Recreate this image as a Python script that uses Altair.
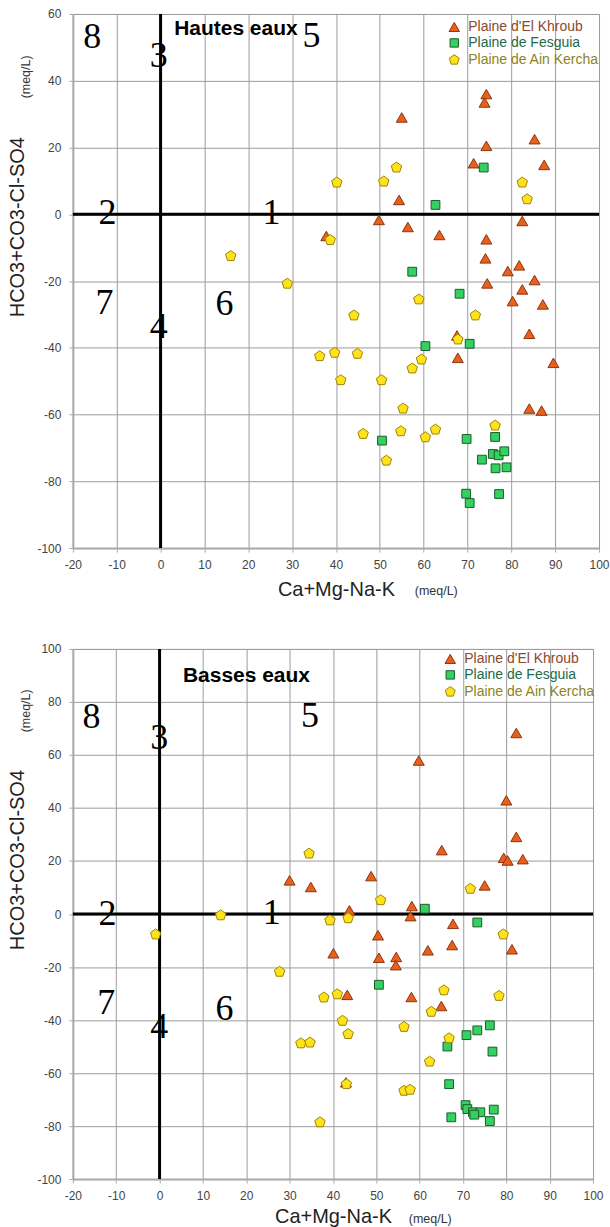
import altair as alt
import pandas as pd

# Series names, styles
SERIES = ["Plaine d'El Khroub", "Plaine de Fesguia", "Plaine de Ain Kercha"]
FILLS = ["#e8601c", "#35d160", "#ffe21c"]
STROKES = ["#8a3510", "#1b5a2c", "#9c8500"]
PENTAGON = "M0,-1L0.951,-0.309L0.588,0.809L-0.588,0.809L-0.951,-0.309Z"
SQUARE = "M-0.8,-0.8L0.8,-0.8L0.8,0.8L-0.8,0.8Z"
SHAPES = ["triangle-up", SQUARE, PENTAGON]

X_TICKS = list(range(-20, 101, 10))

# ---- Hautes eaux: (Ca+Mg-Na-K, HCO3+CO3-Cl-SO4) in meq/L ----
hautes_khroub = [
    (74.3, 36.0), (73.9, 33.5), (55.0, 29.0), (74.3, 20.5), (85.3, 22.5),
    (71.4, 15.3), (87.5, 14.8), (54.4, 4.3), (49.8, -1.7), (82.5, -2.0),
    (56.4, -3.8), (63.6, -6.2), (37.8, -6.5), (74.3, -7.5), (74.1, -13.2),
    (79.2, -17.0), (81.8, -15.3), (85.3, -19.7), (74.5, -20.7), (82.5, -22.5),
    (80.3, -26.0), (87.2, -27.0), (84.1, -35.8), (67.6, -36.3), (67.8, -43.0),
    (89.6, -44.5), (84.1, -58.2), (86.9, -58.8),
]
hautes_fesguia = [
    (73.7, 14.0), (62.7, 2.8), (57.4, -17.2), (68.2, -23.8), (60.4, -39.5),
    (70.5, -38.8), (50.5, -67.8), (69.8, -67.3), (76.3, -66.7), (75.8, -71.8),
    (77.1, -72.2), (78.4, -71.0), (73.3, -73.5), (76.4, -76.1), (78.9, -75.8),
    (69.7, -83.7), (70.5, -86.5), (77.2, -83.8),
]
hautes_kercha = [
    (16.0, -12.5), (28.9, -20.8), (53.8, 14.0), (40.2, 9.5), (50.9, 9.8),
    (82.5, 9.5), (83.6, 4.5), (38.7, -7.7), (58.9, -25.5), (44.1, -30.3),
    (71.8, -30.3), (67.8, -37.5), (36.3, -42.5), (39.7, -41.5), (44.9, -41.8),
    (59.5, -43.5), (57.4, -46.2), (41.1, -49.7), (50.4, -49.7), (55.3, -58.2),
    (76.3, -63.3), (46.2, -65.8), (54.8, -65.0), (60.4, -66.8), (62.7, -64.5),
    (51.5, -73.8),
]

# ---- Basses eaux ----
basses_khroub = [
    (30.0, 12.7), (82.3, 68.3), (59.8, 57.9), (80.0, 42.9), (82.3, 29.1),
    (65.1, 24.1), (79.4, 21.2), (80.3, 20.2), (83.8, 20.7), (48.8, 14.3),
    (34.9, 10.2), (75.0, 10.8), (43.8, 1.4), (58.2, 3.0), (57.9, -0.8),
    (67.7, -3.7), (50.4, -8.0), (40.1, -14.8), (50.6, -16.5), (54.6, -16.2),
    (54.5, -19.3), (61.9, -13.7), (67.5, -11.7), (81.3, -13.3), (43.3, -30.5),
    (58.1, -31.3), (65.0, -34.7), (43.0, -63.5),
]
basses_fesguia = [
    (61.2, 2.0), (73.3, -3.2), (50.6, -26.7), (76.2, -42.0), (73.3, -43.9),
    (70.8, -45.7), (66.4, -50.0), (76.8, -51.9), (66.8, -64.2), (70.6, -72.1),
    (71.0, -73.6), (72.3, -74.8), (74.0, -74.8), (72.6, -75.7), (77.1, -73.8),
    (67.3, -76.7), (76.2, -78.1),
]
basses_kercha = [
    (14.1, -0.5), (-0.9, -7.7), (27.7, -21.8), (32.6, -48.8), (34.7, -48.5),
    (34.5, 22.8), (51.0, 5.2), (71.7, 9.5), (39.3, -2.4), (43.5, -1.6),
    (79.3, -7.7), (37.9, -31.5), (41.0, -30.3), (65.6, -28.8), (78.3, -30.9),
    (62.7, -36.9), (42.2, -40.3), (43.5, -45.3), (56.4, -42.6), (66.8, -46.9),
    (62.3, -55.7), (43.1, -64.2), (56.4, -66.7), (57.8, -66.3), (37.0, -78.6),
]

# Zone numbers (label, x, y)
hautes_zones = [("8", -15.6, 53.1), ("3", -0.4, 47.3), ("5", 34.4, 53.3),
                ("2", -12.1, 0.3), ("1", 25.3, 0.5), ("7", -12.8, -26.6),
                ("4", -0.4, -33.9), ("6", 14.6, -27.0)]
basses_zones = [("8", -15.7, 74.3), ("3", -0.1, 66.4), ("5", 34.7, 74.8),
                ("2", -12.0, 0.1), ("1", 25.9, 0.5), ("7", -12.3, -33.4),
                ("4", -0.1, -42.6), ("6", 15.0, -35.9)]

LABEL_COLOR_EXPR = (
    "indexof(datum.label, 'Khroub') >= 0 ? '#8b4a2b' : "
    "(indexof(datum.label, 'Fesguia') >= 0 ? '#1f6a47' : '#8d8320')"
)


def make_panel(khroub, fesguia, kercha, zones, title, title_xy, y_min, y_max,
               width, height, legend_xy, row_pad, xtitle_y, ytitle_y, meq_left, meq_below):
    rows = []
    for name, pts in zip(SERIES, [khroub, fesguia, kercha]):
        rows += [{"x": px, "y": py, "serie": name} for px, py in pts]
    df = pd.DataFrame(rows)

    x_enc = alt.X(
        "x:Q",
        scale=alt.Scale(domain=[-20, 100], nice=False, zero=False),
        axis=alt.Axis(values=X_TICKS, title="Ca+Mg-Na-K", labelExpr="'' + datum.value",
                      grid=True, labelFlush=False, titleBaseline="alphabetic",
                      titleY=xtitle_y, labelPadding=7),
    )
    y_enc = alt.Y(
        "y:Q",
        scale=alt.Scale(domain=[y_min, y_max], nice=False, zero=False),
        axis=alt.Axis(values=list(range(y_min, y_max + 1, 10)), title="HCO3+CO3-Cl-SO4",
                      labelExpr="'' + datum.value", grid=True, labelFlush=False,
                      titleAngle=270, titleAlign="center", titleBaseline="bottom",
                      titleX=-45, titleY=ytitle_y, titleFontSize=20, labelPadding=8),
    )

    legend = alt.Legend(
        title=None, orient="none", legendX=legend_xy[0], legendY=legend_xy[1],
        labelFont="Liberation Sans", labelFontSize=14,
        labelColor={"expr": LABEL_COLOR_EXPR},
        symbolSize=110, symbolStrokeWidth=1, rowPadding=row_pad,
        labelOffset=7, padding=0,
    )

    points = alt.Chart(df).mark_point(filled=True, opacity=1, size=121, strokeWidth=1).encode(
        x=x_enc,
        y=y_enc,
        fill=alt.Fill("serie:N", scale=alt.Scale(domain=SERIES, range=FILLS), legend=legend),
        stroke=alt.Stroke("serie:N", scale=alt.Scale(domain=SERIES, range=STROKES), legend=legend),
        shape=alt.Shape("serie:N", scale=alt.Scale(domain=SERIES, range=SHAPES), legend=legend),
    )

    axis_h = alt.Chart(pd.DataFrame({"v": [0]})).mark_rule(color="black", strokeWidth=3).encode(
        y=alt.datum(0)
    )
    axis_v = alt.Chart(pd.DataFrame({"v": [0]})).mark_rule(color="black", strokeWidth=3).encode(
        x=alt.datum(0)
    )

    zdf = pd.DataFrame(zones, columns=["label", "x", "y"])
    zone_text = alt.Chart(zdf).mark_text(
        font="Liberation Serif", fontSize=36, color="black", align="center", baseline="middle"
    ).encode(x=x_enc, y=y_enc, text="label:N")

    tdf = pd.DataFrame({"label": [title], "x": [title_xy[0]], "y": [title_xy[1]]})
    title_text = alt.Chart(tdf).mark_text(
        font="Liberation Sans", fontSize=21, fontWeight="bold", color="black",
        align="left", baseline="alphabetic"
    ).encode(x=x_enc, y=y_enc, text="label:N")

    unit = pd.DataFrame({"t": ["(meq/L)"]})
    meq_y_text = alt.Chart(unit).mark_text(
        font="Liberation Sans", fontSize=12.5, color="#333", angle=270,
        align="center", baseline="middle"
    ).encode(x=alt.value(meq_left[0]), y=alt.value(meq_left[1]), text="t:N")
    meq_x_text = alt.Chart(unit).mark_text(
        font="Liberation Sans", fontSize=12.5, color="#333",
        align="center", baseline="middle"
    ).encode(x=alt.value(meq_below[0]), y=alt.value(height + meq_below[1]), text="t:N")

    return alt.layer(
        axis_h, axis_v, points, zone_text, title_text, meq_y_text, meq_x_text
    ).properties(width=width, height=height)


top = make_panel(
    hautes_khroub, hautes_fesguia, hautes_kercha, hautes_zones,
    "Hautes eaux", (3.1, 53.8), -100, 60, 527, 535,
    legend_xy=(375, 6), row_pad=2, xtitle_y=47, ytitle_y=213,
    meq_left=(-47, 63), meq_below=(364, 43),
)
bottom = make_panel(
    basses_khroub, basses_fesguia, basses_kercha, basses_zones,
    "Basses eaux", (5.4, 87.5), -100, 100, 521, 531,
    legend_xy=(371, 3), row_pad=2, xtitle_y=43, ytitle_y=211,
    meq_left=(-47, 62), meq_below=(358, 40),
)

chart = alt.vconcat(top, bottom, spacing=42).resolve_legend(
    fill="independent", stroke="independent", shape="independent"
).properties(
    padding={"top": 6, "left": 7, "right": 0, "bottom": 0}
).configure_axis(
    labelFont="Liberation Sans", labelFontSize=12, labelColor="#444444",
    titleFont="Liberation Sans", titleFontSize=20, titleFontWeight="normal",
    titleColor="#222222", gridColor="#9c9c9c", gridWidth=1, gridOpacity=1,
    domainColor="#aaaaaa", domainWidth=2, tickColor="#aaaaaa", tickSize=4,
).configure_view(stroke="#b0b0b0", strokeWidth=1)

chart.save("out.html", embed_options={"renderer": "svg", "actions": False})
